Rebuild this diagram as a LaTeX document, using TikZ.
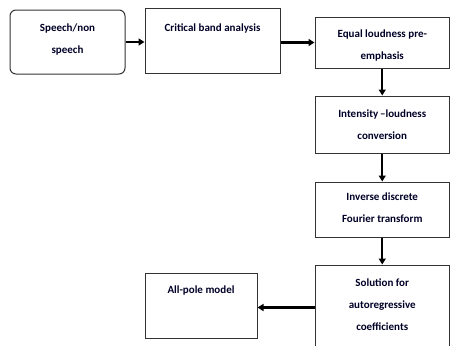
\documentclass[tikz,border=0pt]{standalone}
\usepackage{fontspec}
\setmainfont{Carlito}
\usetikzlibrary{arrows.meta}
\tikzset{
  blk/.style={draw=black!80, line width=1pt, inner sep=0pt, minimum width=#1},
  lbl/.style={font=\bfseries\fontsize{11}{22}\selectfont, text=black!85!blue, align=center, inner sep=0pt},
  arr/.style={line width=2.2pt, -{Triangle[length=6pt,width=7pt]}}
}
\begin{document}
\begin{tikzpicture}[x=1pt,y=-1pt]
\useasboundingbox (0,0) rectangle (451,346);
% boxes
\node[blk=115pt, minimum height=64pt, rounded corners=6pt] (b1) at (67.5,42) {};
\node[blk=135pt, minimum height=65pt] (b2) at (212.5,40.5) {};
\node[blk=134.5pt, minimum height=51pt] (b3) at (382.25,42.5) {};
\node[blk=134.5pt, minimum height=57pt] (b4) at (382.25,124.5) {};
\node[blk=134.5pt, minimum height=55pt] (b5) at (382.25,209.5) {};
\node[blk=134.5pt, minimum height=85pt] (b6) at (382.25,307.5) {};
\node[blk=112pt, minimum height=65pt] (b7) at (201,305.5) {};
% texts
\node[lbl] (t1) at (67.5,40) {Speech/non\\speech};
\node[lbl] (t2) at (212.5,28) {Critical band analysis};
\node[lbl] (t3) at (382.25,46) {Equal loudness pre-\\emphasis};
\node[lbl] (t4) at (382.25,125) {Intensity\,--loudness\\conversion};
\node[lbl] (t5) at (382.25,207.5) {Inverse discrete\\Fourier transform};
\node[lbl] (t6) at (382.25,305) {Solution for\\autoregressive\\coefficients};
\node[lbl] (t7) at (201,291) {All-pole model};
% arrows
\draw[arr] (b1.east) -- (b2.west |- b1.east);
\draw[arr] (b2.east |- b3.west) -- (b3.west);
\draw[arr] (b3.south) -- (b4.north);
\draw[arr] (b4.south) -- (b5.north);
\draw[arr] (b5.south) -- (b6.north);
\draw[arr] (b6.west) -- (b7.east |- b6.west);
\end{tikzpicture}
\end{document}
